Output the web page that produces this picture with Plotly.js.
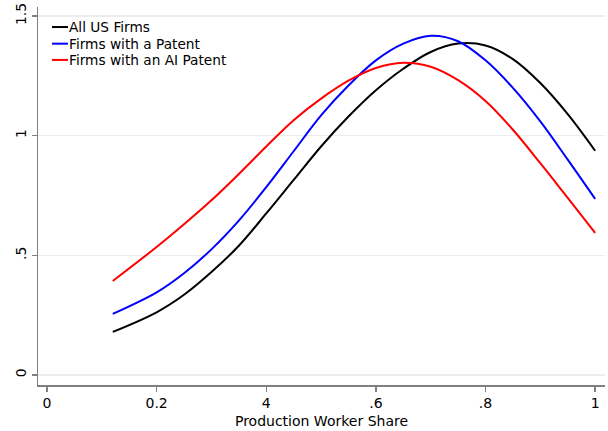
<!DOCTYPE html>
<html>
<head>
<meta charset="utf-8">
<script src="https://cdn.plot.ly/plotly-3.0.1.min.js"></script>
<style>html,body{margin:0;padding:0;background:#fff}#chart{width:608px;height:431px}</style>
</head>
<body>
<div id="chart"></div>
<script>
// Data
const seriesNames = ["All US Firms", "Firms with a Patent", "Firms with an AI Patent"];
const seriesColors = ["#000000", "#0000ff", "#ff0000"];
const xShare = [0.12, 0.2, 0.25, 0.3, 0.35, 0.4, 0.45, 0.5, 0.55, 0.6, 0.65, 0.7, 0.75, 0.8, 0.85, 0.9, 0.95, 1.0];
const allFirms = [0.18, 0.262, 0.335, 0.43, 0.54, 0.675, 0.815, 0.955, 1.08, 1.19, 1.28, 1.35, 1.385, 1.377, 1.32, 1.22, 1.09, 0.937];
const patentFirms = [0.255, 0.345, 0.425, 0.525, 0.645, 0.785, 0.935, 1.085, 1.21, 1.315, 1.385, 1.418, 1.395, 1.315, 1.2, 1.06, 0.9, 0.736];
const aiPatentFirms = [0.393, 0.535, 0.63, 0.73, 0.84, 0.955, 1.065, 1.155, 1.23, 1.283, 1.305, 1.288, 1.232, 1.145, 1.025, 0.885, 0.74, 0.594];
const xTickVals = [0, 0.2, 0.4, 0.6, 0.8, 1];
const xTickText = ["0", "0.2", "4", ".6", ".8", "1"];
const yTickVals = [0, 0.5, 1, 1.5];
const yTickText = ["0", ".5", "1", "1.5"];
const xTitle = "Production Worker Share";

const ys = [allFirms, patentFirms, aiPatentFirms];
const traces = ys.map((y, i) => ({
  x: xShare, y: y, type: "scatter", mode: "lines", name: seriesNames[i],
  line: {color: seriesColors[i], width: 2, shape: "spline", smoothing: 1},
  showlegend: false, hoverinfo: "skip"
}));

const font = {family: "DejaVu Sans, Liberation Sans, sans-serif", size: 14, color: "#000"};
const legendRows = [0.947, 0.903, 0.860];
const shapes = [], annotations = [];
seriesNames.forEach((n, i) => {
  shapes.push({type: "line", xref: "paper", yref: "paper", x0: 0.0247, x1: 0.0529,
    y0: legendRows[i], y1: legendRows[i], line: {color: seriesColors[i], width: 2}});
  annotations.push({xref: "paper", yref: "paper", x: 0.0529, y: legendRows[i], text: n,
    showarrow: false, xanchor: "left", yanchor: "middle", xshift: -1,
    font: {family: font.family, size: 13.7, color: "#000"}});
});

const layout = {
  width: 608, height: 431,
  margin: {l: 38, r: 3, t: 7, b: 46},
  paper_bgcolor: "#fff", plot_bgcolor: "#fff",
  font: font,
  showlegend: false,
  xaxis: {
    range: [-0.0164, 1.018], tickvals: xTickVals, ticktext: xTickText,
    showgrid: false, zeroline: false, showline: true, linecolor: "#808080", linewidth: 1.5,
    ticks: "outside", ticklen: 5, tickcolor: "#808080", tickwidth: 1.5,
    tickfont: {family: font.family, size: 14, color: "#000"},
    title: {text: xTitle, font: {family: font.family, size: 14, color: "#000"}, standoff: 6}
  },
  yaxis: {
    range: [-0.042, 1.538], tickvals: yTickVals, ticktext: yTickText,
    showgrid: true, gridcolor: "#ececec", gridwidth: 1.5, zeroline: false,
    showline: true, linecolor: "#808080", linewidth: 1.5,
    ticks: "outside", ticklen: 5, tickcolor: "#808080", tickwidth: 1.5,
    tickangle: -90, tickfont: {family: font.family, size: 14, color: "#000"}
  },
  shapes: shapes, annotations: annotations
};

Plotly.newPlot("chart", traces, layout, {displayModeBar: false, staticPlot: true});
</script>
</body>
</html>
